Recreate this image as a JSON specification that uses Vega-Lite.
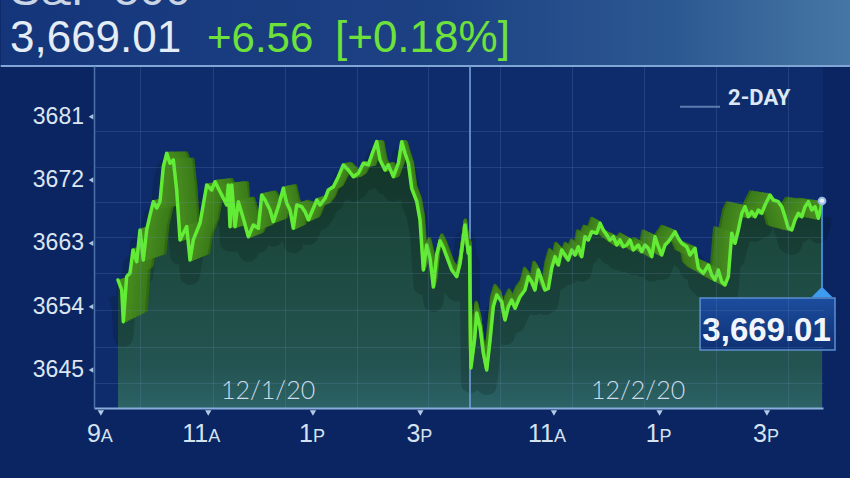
{
  "$schema": "https://vega.github.io/schema/vega-lite/v6.json",
  "width": 729,
  "height": 342,
  "autosize": "none",
  "padding": {"left": 94, "top": 66, "right": 27, "bottom": 70},
  "background": "#0b2562",
  "config": {"view": {"fill": "#0e2c6c", "stroke": null}, "font": "Liberation Sans"},
  "datasets": {
    "spx": [
      {"m":0,"p":3657.79},{"m":4.1,"p":3656.37},{"m":5.9,"p":3651.86},{"m":9.6,"p":3658.26},{"m":13.3,"p":3658.79},{"m":16.6,"p":3662.05},{"m":20.7,"p":3660.39},{"m":24.4,"p":3664.9},{"m":28,"p":3660.63},{"m":31.8,"p":3664.9},{"m":35.5,"p":3667.03},{"m":39.1,"p":3668.92},{"m":42.9,"p":3668.02},{"m":46.5,"p":3668.92},{"m":50.2,"p":3673.89},{"m":54,"p":3675.8},{"m":57.6,"p":3674.38},{"m":61.3,"p":3674.85},{"m":65,"p":3670.58},{"m":68.7,"p":3663.48},{"m":72.4,"p":3664.47},{"m":76.1,"p":3665.37},{"m":79.8,"p":3660.63},{"m":83.4,"p":3663.48},{"m":90.9,"p":3665.89},{"m":98.3,"p":3671.29},{"m":103.8,"p":3670.58},{"m":107.5,"p":3671.76},{"m":111.1,"p":3670.82},{"m":114.9,"p":3669.87},{"m":120.4,"p":3668.45},{"m":122.2,"p":3671.29},{"m":124.1,"p":3665.37},{"m":126,"p":3671.29},{"m":129.6,"p":3665.37},{"m":133.3,"p":3668.92},{"m":138.8,"p":3666.56},{"m":144.4,"p":3663.94},{"m":149.9,"p":3665.61},{"m":155.5,"p":3665.14},{"m":159.2,"p":3669.87},{"m":162.9,"p":3669.16},{"m":168.4,"p":3667.74},{"m":172.1,"p":3666.08},{"m":177.6,"p":3668.21},{"m":183.2,"p":3670.82},{"m":186.9,"p":3668.69},{"m":190.6,"p":3667.74},{"m":194.2,"p":3665.14},{"m":198,"p":3668.45},{"m":203.5,"p":3668.21},{"m":207.2,"p":3667.5},{"m":210.9,"p":3666.32},{"m":216.4,"p":3667.98},{"m":220.2,"p":3669.16},{"m":223.8,"p":3668.45},{"m":229.4,"p":3669.4},{"m":233,"p":3670.58},{"m":238.6,"p":3671.05},{"m":244.1,"p":3672.47},{"m":249.6,"p":3674.14},{"m":255.2,"p":3673.42},{"m":260.7,"p":3672.47},{"m":266.3,"p":3672.96},{"m":271.8,"p":3674.38},{"m":277.3,"p":3674.14},{"m":281.1,"p":3675.56},{"m":286.6,"p":3677.45},{"m":290.3,"p":3674.85},{"m":295.8,"p":3673.42},{"m":299.5,"p":3674.14},{"m":305,"p":3672.47},{"m":310.6,"p":3674.38},{"m":314.3,"p":3677.45},{"m":318,"p":3675.8},{"m":321.7,"p":3674.38},{"m":325.4,"p":3670.82},{"m":331,"p":3668.92},{"m":334.6,"p":3666.32},{"m":338.3,"p":3659.21},{"m":342,"p":3662.76},{"m":345.7,"p":3660.87},{"m":349.4,"p":3656.79},{"m":353.1,"p":3661.34},{"m":356.8,"p":3663.33},{"m":360.4,"p":3662.41},{"m":364.2,"p":3661.1},{"m":369.7,"p":3659.21},{"m":375.3,"p":3658.26},{"m":378.9,"p":3660.16},{"m":384.5,"p":3665.61},{"m":388.1,"p":3661.58},{"m":389.5,"p":3662.45},
      {"m":391,"p":3645.3},{"m":395,"p":3649.3},{"m":397.4,"p":3653.1},{"m":401.1,"p":3651.15},{"m":404.8,"p":3647.41},{"m":408.5,"p":3645.0},{"m":412.2,"p":3649.26},{"m":415.8,"p":3654.0},{"m":419.6,"p":3655.66},{"m":425.1,"p":3654.71},{"m":428.8,"p":3652.11},{"m":432.5,"p":3654.0},{"m":436.2,"p":3654.95},{"m":439.9,"p":3653.77},{"m":445.4,"p":3655.42},{"m":450.9,"p":3656.37},{"m":454.6,"p":3658.26},{"m":458.4,"p":3657.55},{"m":462,"p":3656.37},{"m":465.7,"p":3659.21},{"m":469.5,"p":3657.79},{"m":473.1,"p":3656.37},{"m":476.8,"p":3656.6},{"m":480.5,"p":3659.45},{"m":484.2,"p":3661.1},{"m":487.9,"p":3659.92},{"m":491.6,"p":3662.05},{"m":495.3,"p":3661.34},{"m":498.9,"p":3660.63},{"m":502.7,"p":3662.05},{"m":506.4,"p":3661.34},{"m":510,"p":3662.52},{"m":513.8,"p":3661.1},{"m":517.4,"p":3663.94},{"m":521.1,"p":3663.48},{"m":524.9,"p":3664.65},{"m":530.4,"p":3664.43},{"m":534.1,"p":3665.85},{"m":537.7,"p":3664.9},{"m":541.5,"p":3664.19},{"m":545.1,"p":3663.48},{"m":548.8,"p":3663.94},{"m":552.6,"p":3662.76},{"m":556.2,"p":3663.48},{"m":559.9,"p":3662.52},{"m":563.7,"p":3662.76},{"m":567.3,"p":3663.48},{"m":571,"p":3662.05},{"m":576.5,"p":3662.76},{"m":580.3,"p":3661.81},{"m":583.9,"p":3662.76},{"m":587.6,"p":3662.3},{"m":591.4,"p":3661.1},{"m":595,"p":3663.94},{"m":598.7,"p":3662.52},{"m":602.4,"p":3661.34},{"m":606.1,"p":3662.76},{"m":609.7,"p":3663.23},{"m":613.5,"p":3663.94},{"m":617.2,"p":3664.65},{"m":620.8,"p":3663.72},{"m":624.6,"p":3663.01},{"m":630.1,"p":3662.52},{"m":633.8,"p":3661.34},{"m":639.3,"p":3662.3},{"m":643,"p":3659.45},{"m":648.5,"p":3658.74},{"m":654.1,"p":3659.92},{"m":657.8,"p":3658.5},{"m":661.5,"p":3657.79},{"m":665.1,"p":3659.21},{"m":668.9,"p":3657.55},{"m":672.5,"p":3657.08},{"m":676.2,"p":3658.26},{"m":680,"p":3664.43},{"m":683.6,"p":3663.01},{"m":687.3,"p":3664.9},{"m":691.1,"p":3667.27},{"m":694.7,"p":3668.21},{"m":698.4,"p":3666.79},{"m":702.2,"p":3667.5},{"m":705.8,"p":3666.79},{"m":709.5,"p":3667.74},{"m":713.2,"p":3667.27},{"m":716.9,"p":3668.45},{"m":722.4,"p":3669.87},{"m":726.1,"p":3669.16},{"m":731.6,"p":3668.92},{"m":735.4,"p":3668.21},{"m":739,"p":3666.79},{"m":742.7,"p":3665.14},{"m":746.5,"p":3664.9},{"m":750.1,"p":3666.32},{"m":753.8,"p":3667.27},{"m":757.6,"p":3666.79},{"m":761.2,"p":3668.21},{"m":764.9,"p":3668.92},{"m":768.7,"p":3667.74},{"m":772.3,"p":3668.21},{"m":776,"p":3666.56},{"m":778.8,"p":3667.98},{"m":780,"p":3669.01}
    ],
    "yticks": [{"p":3681,"label":"3681"},{"p":3672,"label":"3672"},{"p":3663,"label":"3663"},{"p":3654,"label":"3654"},{"p":3645,"label":"3645"}],
    "xticks": [{"m":-19,"num":"9","suf":"A"},{"m":100,"num":"11","suf":"A"},{"m":216,"num":"1","suf":"P"},{"m":335,"num":"3","suf":"P"},{"m":483,"num":"11","suf":"A"},{"m":600,"num":"1","suf":"P"},{"m":719,"num":"3","suf":"P"}],
    "dates": [{"m":166.2,"label":"12/1/20"},{"m":576.2,"label":"12/2/20"}],
    "last": [{"m":780,"p":3669.01,"label":"3,669.01"}]
  },
  "layer": [
    {
      "data": {"values": [{"part": "header"}]},
      "mark": {"type": "rect", "fill": {"gradient": "linear", "x1": 0, "y1": 0, "x2": 1, "y2": 0, "stops": [{"offset": 0, "color": "#15357a"}, {"offset": 0.5, "color": "#1d4284"}, {"offset": 0.75, "color": "#2c5891"}, {"offset": 0.95, "color": "#4676a5"}]}},
      "encoding": {
        "x": {"datum": -130, "type": "quantitative", "axis": null},
        "x2": {"datum": 860},
        "y": {"datum": 3688.2, "type": "quantitative", "axis": null},
        "y2": {"datum": 3700}
      }
    },
    {
      "data": {"values": [{"part": "separator"}]},
      "mark": {"type": "rule", "stroke": "#7fa6d4", "strokeWidth": 2},
      "encoding": {
        "x": {"datum": -130, "type": "quantitative", "axis": null},
        "x2": {"datum": 860},
        "y": {"datum": 3688.2, "type": "quantitative", "axis": null}
      }
    },
    {
      "data": {"name": "spx"},
      "mark": {"type": "area", "fill": {"gradient": "linear", "x1": 0, "y1": 0, "x2": 0, "y2": 1, "stops": [{"offset": 0, "color": "#163d2f"}, {"offset": 0.45, "color": "#1d4a40"}, {"offset": 0.85, "color": "#245452"}, {"offset": 1, "color": "#2c6366"}]}},
      "encoding": {
        "x": {"field": "m", "type": "quantitative", "scale": {"domain": [-26.6, 781.1], "nice": false, "zero": false},
          "axis": {"values": [24.4,105.3,185,264.8,343.5,423.3,503,582.8,662.6,742.4], "grid": true, "gridColor": "#6d90c4", "gridOpacity": 0.2, "labels": false, "ticks": false, "title": null, "domainColor": "#88aedb", "domainWidth": 2, "zindex": 1}},
        "y": {"field": "p", "type": "quantitative", "scale": {"domain": [3639.6, 3688.2], "nice": false, "zero": false},
          "axis": {"values": [3643.15,3648.26,3653.52,3658.78,3663.9,3668.88,3673.85,3678.97], "grid": true, "gridColor": "#6d90c4", "gridOpacity": 0.2, "labels": false, "ticks": false, "title": null, "domainColor": "#4c70a8", "domainWidth": 1.5, "zindex": 1}},
        "y2": {"datum": 3639.6}
      }
    },
    {
      "data": {"name": "spx"},
      "mark": {"type": "line", "stroke": "#06160f", "strokeWidth": 20, "opacity": 0.2, "yOffset": 15, "strokeJoin": "round"},
      "encoding": {
        "x": {"field": "m", "type": "quantitative", "axis": null},
        "y": {"field": "p", "type": "quantitative", "axis": null}
      }
    },
    {
      "data": {"values": [{"m": 390}]},
      "mark": {"type": "rule", "stroke": "#6f9ad2", "strokeWidth": 2, "opacity": 0.85},
      "encoding": {"x": {"field": "m", "type": "quantitative", "axis": null}}
    },
    {
      "data": {"name": "spx"},
      "resolve": {"scale": {"x": "independent", "y": "independent"}},
      "layer": [
        {"mark": {"type": "line", "stroke": "#2f6912", "strokeWidth": 3.6, "strokeJoin": "round"}, "encoding": {"x": {"field": "m", "type": "quantitative", "axis": null, "scale": {"domain": [-26.6, 781.1], "range": [24.44, 706.055], "nice": false, "zero": false}}, "y": {"field": "p", "type": "quantitative", "axis": null, "scale": {"domain": [3639.6, 3688.2], "range": [325.23, 5.46], "nice": false, "zero": false}}}},
        {"mark": {"type": "line", "stroke": "#3b7b19", "strokeWidth": 3.6, "strokeJoin": "round"}, "encoding": {"x": {"field": "m", "type": "quantitative", "axis": null, "scale": {"domain": [-26.6, 781.1], "range": [21.385, 708.923], "nice": false, "zero": false}}, "y": {"field": "p", "type": "quantitative", "axis": null, "scale": {"domain": [3639.6, 3688.2], "range": [327.326, 4.7775], "nice": false, "zero": false}}}},
        {"mark": {"type": "line", "stroke": "#3d7e1a", "strokeWidth": 3.6, "strokeJoin": "round"}, "encoding": {"x": {"field": "m", "type": "quantitative", "axis": null, "scale": {"domain": [-26.6, 781.1], "range": [18.33, 711.791], "nice": false, "zero": false}}, "y": {"field": "p", "type": "quantitative", "axis": null, "scale": {"domain": [3639.6, 3688.2], "range": [329.4225, 4.095], "nice": false, "zero": false}}}},
        {"mark": {"type": "line", "stroke": "#3e801b", "strokeWidth": 3.6, "strokeJoin": "round"}, "encoding": {"x": {"field": "m", "type": "quantitative", "axis": null, "scale": {"domain": [-26.6, 781.1], "range": [15.275, 714.659], "nice": false, "zero": false}}, "y": {"field": "p", "type": "quantitative", "axis": null, "scale": {"domain": [3639.6, 3688.2], "range": [331.519, 3.4125], "nice": false, "zero": false}}}},
        {"mark": {"type": "line", "stroke": "#40821c", "strokeWidth": 3.6, "strokeJoin": "round"}, "encoding": {"x": {"field": "m", "type": "quantitative", "axis": null, "scale": {"domain": [-26.6, 781.1], "range": [12.22, 717.528], "nice": false, "zero": false}}, "y": {"field": "p", "type": "quantitative", "axis": null, "scale": {"domain": [3639.6, 3688.2], "range": [333.615, 2.73], "nice": false, "zero": false}}}},
        {"mark": {"type": "line", "stroke": "#42851d", "strokeWidth": 3.6, "strokeJoin": "round"}, "encoding": {"x": {"field": "m", "type": "quantitative", "axis": null, "scale": {"domain": [-26.6, 781.1], "range": [9.165, 720.396], "nice": false, "zero": false}}, "y": {"field": "p", "type": "quantitative", "axis": null, "scale": {"domain": [3639.6, 3688.2], "range": [335.711, 2.0475], "nice": false, "zero": false}}}},
        {"mark": {"type": "line", "stroke": "#44881e", "strokeWidth": 3.6, "strokeJoin": "round"}, "encoding": {"x": {"field": "m", "type": "quantitative", "axis": null, "scale": {"domain": [-26.6, 781.1], "range": [6.11, 723.264], "nice": false, "zero": false}}, "y": {"field": "p", "type": "quantitative", "axis": null, "scale": {"domain": [3639.6, 3688.2], "range": [337.8075, 1.365], "nice": false, "zero": false}}}},
        {"mark": {"type": "line", "stroke": "#468a1f", "strokeWidth": 3.6, "strokeJoin": "round"}, "encoding": {"x": {"field": "m", "type": "quantitative", "axis": null, "scale": {"domain": [-26.6, 781.1], "range": [3.055, 726.132], "nice": false, "zero": false}}, "y": {"field": "p", "type": "quantitative", "axis": null, "scale": {"domain": [3639.6, 3688.2], "range": [339.904, 0.6825], "nice": false, "zero": false}}}}
      ]
    },
    {
      "data": {"name": "spx"},
      "mark": {"type": "line", "stroke": "#62ec35", "strokeWidth": 3.5, "strokeJoin": "round", "strokeCap": "round"},
      "encoding": {
        "x": {"field": "m", "type": "quantitative", "axis": null},
        "y": {"field": "p", "type": "quantitative", "axis": null}
      }
    },
    {
      "data": {"name": "yticks"},
      "mark": {"type": "text", "align": "right", "baseline": "middle", "dx": -10, "fontSize": 23, "fill": "#dce6f2"},
      "encoding": {
        "x": {"datum": -26.6, "type": "quantitative", "axis": null},
        "y": {"field": "p", "type": "quantitative", "axis": null},
        "text": {"field": "label"}
      }
    },
    {
      "data": {"name": "yticks"},
      "mark": {"type": "point", "shape": "triangle-left", "filled": true, "size": 30, "color": "#a9c2e0", "opacity": 1, "xOffset": -3},
      "encoding": {
        "x": {"datum": -26.6, "type": "quantitative", "axis": null},
        "y": {"field": "p", "type": "quantitative", "axis": null}
      }
    },
    {
      "data": {"name": "xticks"},
      "mark": {"type": "point", "shape": "triangle-down", "filled": true, "size": 40, "color": "#b3cae6", "opacity": 1, "yOffset": 5},
      "encoding": {
        "x": {"field": "m", "type": "quantitative", "axis": null},
        "y": {"datum": 3639.6, "type": "quantitative", "axis": null}
      }
    },
    {
      "data": {"name": "xticks"},
      "mark": {"type": "text", "align": "right", "baseline": "alphabetic", "dy": 34, "fontSize": 25, "fill": "#d5e2f0"},
      "encoding": {
        "x": {"field": "m", "type": "quantitative", "axis": null},
        "y": {"datum": 3639.6, "type": "quantitative", "axis": null},
        "text": {"field": "num"}
      }
    },
    {
      "data": {"name": "xticks"},
      "mark": {"type": "text", "align": "left", "baseline": "alphabetic", "dy": 34, "fontSize": 18, "fill": "#d5e2f0"},
      "encoding": {
        "x": {"field": "m", "type": "quantitative", "axis": null},
        "y": {"datum": 3639.6, "type": "quantitative", "axis": null},
        "text": {"field": "suf"}
      }
    },
    {
      "data": {"name": "dates"},
      "mark": {"type": "text", "align": "center", "baseline": "alphabetic", "fontSize": 25, "font": "Lato", "fontWeight": 300, "fill": "#cfdcec"},
      "encoding": {
        "x": {"field": "m", "type": "quantitative", "axis": null},
        "y": {"datum": 3640.88, "type": "quantitative", "axis": null},
        "text": {"field": "label"}
      }
    },
    {
      "data": {"values": [{"label": "2-DAY"}]},
      "mark": {"type": "rule", "stroke": "#5a7db0", "strokeWidth": 2},
      "encoding": {
        "x": {"datum": 622.7, "type": "quantitative", "axis": null},
        "x2": {"datum": 667},
        "y": {"datum": 3682.4, "type": "quantitative", "axis": null}
      }
    },
    {
      "data": {"values": [{"label": "2-DAY"}]},
      "mark": {"type": "text", "align": "left", "baseline": "alphabetic", "fontSize": 22, "fontWeight": "bold", "font": "Roboto", "fill": "#dde8f4"},
      "encoding": {
        "x": {"datum": 675.9, "type": "quantitative", "axis": null},
        "y": {"datum": 3682.7, "type": "quantitative", "axis": null},
        "text": {"field": "label"}
      }
    },
    {
      "data": {"values": [{"label": "S&P 500"}]},
      "mark": {"type": "text", "align": "left", "baseline": "alphabetic", "fontSize": 46, "fill": "#c9d5e4"},
      "encoding": {
        "x": {"datum": -119.7, "type": "quantitative", "axis": null},
        "y": {"datum": 3696.9, "type": "quantitative", "axis": null},
        "text": {"field": "label"}
      }
    },
    {
      "data": {"values": [{"label": "3,669.01"}]},
      "mark": {"type": "text", "align": "left", "baseline": "alphabetic", "fontSize": 44, "fill": "#e4ecf5"},
      "encoding": {
        "x": {"datum": -119.7, "type": "quantitative", "axis": null},
        "y": {"datum": 3690.2, "type": "quantitative", "axis": null},
        "text": {"field": "label"}
      }
    },
    {
      "data": {"values": [{"label": "+6.56"}]},
      "mark": {"type": "text", "align": "left", "baseline": "alphabetic", "fontSize": 42, "fill": "#6ee23b"},
      "encoding": {
        "x": {"datum": 98.6, "type": "quantitative", "axis": null},
        "y": {"datum": 3690.2, "type": "quantitative", "axis": null},
        "text": {"field": "label"}
      }
    },
    {
      "data": {"values": [{"label": "[+0.18%]"}]},
      "mark": {"type": "text", "align": "left", "baseline": "alphabetic", "fontSize": 44, "fill": "#6ee23b"},
      "encoding": {
        "x": {"datum": 240.4, "type": "quantitative", "axis": null},
        "y": {"datum": 3690.2, "type": "quantitative", "axis": null},
        "text": {"field": "label"}
      }
    },
    {
      "data": {"name": "last"},
      "mark": {"type": "rule", "stroke": "#4fa8f0", "strokeWidth": 1.5},
      "encoding": {
        "x": {"field": "m", "type": "quantitative", "axis": null},
        "y": {"field": "p", "type": "quantitative", "axis": null},
        "y2": {"datum": 3656.7}
      }
    },
    {
      "data": {"name": "last"},
      "mark": {"type": "point", "shape": "M-1,0.5L1,0.5L0,-0.5Z", "filled": true, "size": 441, "color": "#3d9cf0", "opacity": 1},
      "encoding": {
        "x": {"field": "m", "type": "quantitative", "axis": null},
        "y": {"datum": 3656.08, "type": "quantitative", "axis": null}
      }
    },
    {
      "data": {"name": "last"},
      "mark": {"type": "rect", "fill": {"gradient": "linear", "x1": 0, "y1": 0, "x2": 0, "y2": 1, "stops": [{"offset": 0, "color": "#1c4d9e"}, {"offset": 1, "color": "#0f3073"}]}, "stroke": "#5b8ed0", "strokeWidth": 1.5},
      "encoding": {
        "x": {"datum": 644.9, "type": "quantitative", "axis": null},
        "x2": {"datum": 794.4},
        "y": {"datum": 3655.23, "type": "quantitative", "axis": null},
        "y2": {"datum": 3647.84}
      }
    },
    {
      "data": {"name": "last"},
      "mark": {"type": "text", "align": "center", "baseline": "alphabetic", "fontSize": 33, "fontWeight": "bold", "fill": "#f2f6fb"},
      "encoding": {
        "x": {"datum": 718.6, "type": "quantitative", "axis": null},
        "y": {"datum": 3649.1, "type": "quantitative", "axis": null},
        "text": {"field": "label"}
      }
    },
    {
      "data": {"name": "last"},
      "mark": {"type": "point", "shape": "circle", "filled": true, "size": 45, "fill": "#e6eef8", "stroke": "#9bbbe0", "strokeWidth": 2, "opacity": 1},
      "encoding": {
        "x": {"field": "m", "type": "quantitative", "axis": null},
        "y": {"field": "p", "type": "quantitative", "axis": null}
      }
    }
  ]
}
